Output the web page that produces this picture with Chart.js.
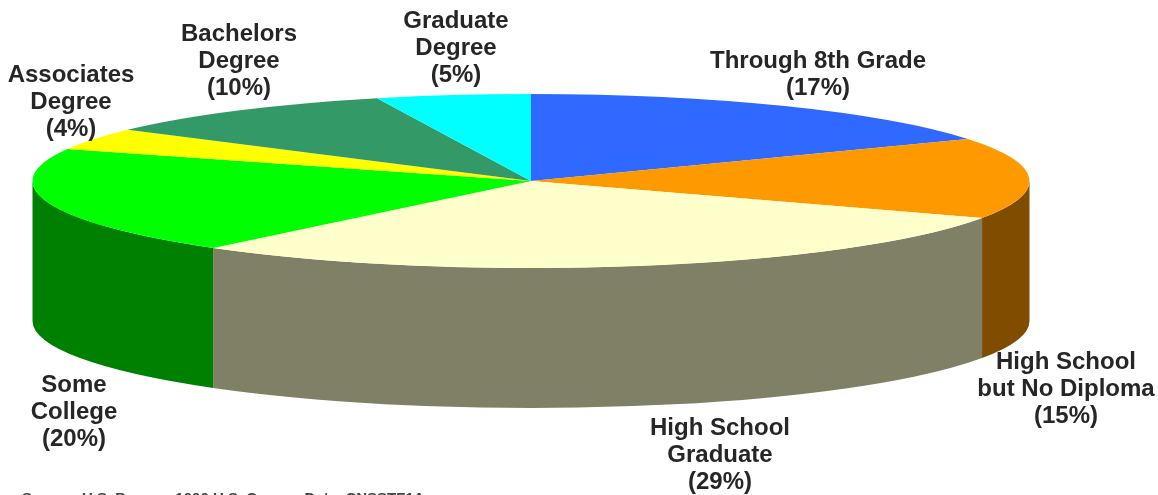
<!DOCTYPE html>
<html>
<head>
<meta charset="utf-8">
<style>html,body{margin:0;padding:0;background:#fff;overflow:hidden}canvas{display:block}</style>
<script src="https://cdn.jsdelivr.net/npm/chart.js@4/dist/chart.umd.min.js"></script>
</head>
<body>
<div style="width:1158px;height:495px;position:relative"><canvas id="c" width="1158" height="495"></canvas></div>
<script>
const categories = ['Through 8th Grade','High School but No Diploma','High School Graduate','Some College','Associates Degree','Bachelors Degree','Graduate Degree'];
const shares = [17,15,29,20,4,10,5];
const topColors = ['#2f69ff','#ff9900','#ffffcc','#00ff00','#ffff00','#339966','#00ffff'];
const wallColors = ['#18347f','#7f4c00','#808066','#008000','#7f7f00','#194c33','#007f7f'];
const labelLines = [
  ['Through 8th Grade','(17%)'],
  ['High School','but No Diploma','(15%)'],
  ['High School','Graduate','(29%)'],
  ['Some','College','(20%)'],
  ['Associates','Degree','(4%)'],
  ['Bachelors','Degree','(10%)'],
  ['Graduate','Degree','(5%)']
];
const labelCentres = [[818,61],[1066,362],[720,428],[74,385],[71,75],[239,34],[456,21]];
const sourceNote = 'Source: U.S. Bureau, 1990 U.S. Census Data, CNSSTF1A';

const squash = 87/498.5, depth = 140;

const tilt3d = {
  id:'tilt3d',
  beforeDatasetDraw(chart,args){
    const ctx = chart.ctx, arcs = args.meta.data;
    const a0 = arcs[0], cx = a0.x, cy = a0.y, r = a0.outerRadius, ry = r*squash;
    arcs.forEach((arc,i)=>{
      const s = Math.max(arc.startAngle,0), e = Math.min(arc.endAngle,Math.PI);
      if(e<=s) return;
      ctx.beginPath();
      ctx.ellipse(cx,cy,r,ry,0,s,e,false);
      ctx.ellipse(cx,cy+depth,r,ry,0,e,s,true);
      ctx.closePath();
      ctx.fillStyle = wallColors[i];
      ctx.fill();
    });
    ctx.save();
    ctx.translate(cx,cy); ctx.scale(1,squash); ctx.translate(-cx,-cy);
  },
  afterDatasetDraw(chart){ chart.ctx.restore(); },
  afterDraw(chart){
    const ctx = chart.ctx;
    ctx.save();
    ctx.fillStyle = '#262626';
    ctx.font = 'bold 24px "Liberation Sans"';
    ctx.textAlign = 'center'; ctx.textBaseline = 'middle';
    labelLines.forEach((lines,i)=>lines.forEach((t,j)=>ctx.fillText(t,labelCentres[i][0],labelCentres[i][1]+j*27)));
    ctx.textAlign = 'left'; ctx.textBaseline = 'top';
    ctx.font = 'bold 15px "Liberation Sans"';
    ctx.fillStyle='#444';
    ctx.fillText(sourceNote,22,491);
    ctx.restore();
  }
};

new Chart(document.getElementById('c'),{
  type:'pie',
  data:{labels:categories,datasets:[{data:shares,backgroundColor:topColors,borderWidth:0,clip:false}]},
  plugins:[tilt3d],
  options:{
    responsive:false,animation:false,radius:498.5,
    layout:{padding:{right:96,bottom:133}},
    plugins:{legend:{display:false},tooltip:{enabled:false}}
  }
});
</script>
</body>
</html>
